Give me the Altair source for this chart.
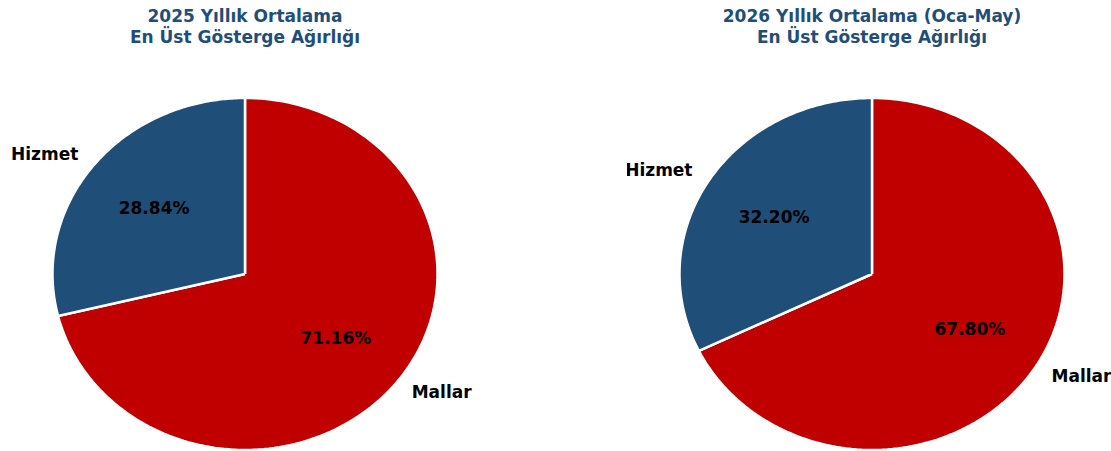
import altair as alt
import pandas as pd

categories = ["Mallar", "Hizmet"]
values_2025 = [71.16, 28.84]
values_2026 = [67.80, 32.20]
title_2025 = ["2025 Yıllık Ortalama", "En Üst Gösterge Ağırlığı"]
title_2026 = ["2026 Yıllık Ortalama (Oca-May)", "En Üst Gösterge Ağırlığı"]
colors = ["#c00000", "#1f4e79"]

RX, RY = 192.5, 176.0
TITLE_COLOR = "#1f4e79"
FONT = "DejaVu Sans"
FS = 17
Y0 = 56
H = 451 - Y0
CY = 273
N = 160


def panel(values, title, width, left_px, dx):
    df = pd.DataFrame({"category": categories, "value": values,
                       "idx": list(range(len(categories)))})
    xs = alt.Scale(domain=[-left_px / RX, (width - left_px) / RX], nice=False, zero=False)
    ys = alt.Scale(domain=[-(451 - CY) / RY, (CY - Y0) / RY], nice=False, zero=False)
    base = (
        alt.Chart(df)
        .transform_joinaggregate(total="sum(value)")
        .transform_window(cum="sum(value)", sort=[alt.SortField("idx")], frame=[None, 0])
        .transform_calculate(t0="2*PI*(datum.cum-datum.value)/datum.total",
                             t1="2*PI*datum.cum/datum.total")
    )
    wedges = (
        base.transform_calculate(i=f"sequence(-1, {N + 2})")
        .transform_flatten(["i"])
        .transform_calculate(a=f"datum.t0 + (datum.t1-datum.t0)*clamp(datum.i,0,{N})/{N}",
                             r=f"(datum.i < 0 || datum.i > {N}) ? 0 : 1")
        .transform_calculate(px="datum.r*sin(datum.a)", py="datum.r*cos(datum.a)")
        .mark_line(filled=True, stroke="white", strokeWidth=2.5, strokeJoin="round")
        .encode(
            x=alt.X("px:Q", scale=xs, axis=None),
            y=alt.Y("py:Q", scale=ys, axis=None),
            color=alt.Color("category:N", scale=alt.Scale(domain=categories, range=colors), legend=None),
            order=alt.Order("i:Q"),
        )
    )
    labeled = (
        base.transform_calculate(m="(datum.t0+datum.t1)/2")
        .transform_calculate(px="0.6*sin(datum.m)", py="0.6*cos(datum.m)",
                             lx="1.1*sin(datum.m)", ly="1.1*cos(datum.m)",
                             pct="format(datum.value, '.2f') + '%'")
    )
    pct = labeled.mark_text(font=FONT, fontWeight="bold", fontSize=FS, color="black",
                            baseline="middle", align="center").encode(
        x=alt.X("px:Q", scale=xs, axis=None), y=alt.Y("py:Q", scale=ys, axis=None), text="pct:N")
    out_l = labeled.transform_filter("datum.lx < 0").mark_text(
        font=FONT, fontWeight="bold", fontSize=FS, color="black", baseline="middle", align="right", clip=True
    ).encode(x=alt.X("lx:Q", scale=xs, axis=None), y=alt.Y("ly:Q", scale=ys, axis=None), text="category:N")
    out_r = labeled.transform_filter("datum.lx >= 0").mark_text(
        font=FONT, fontWeight="bold", fontSize=FS, color="black", baseline="middle", align="left", clip=True
    ).encode(x=alt.X("lx:Q", scale=xs, axis=None), y=alt.Y("ly:Q", scale=ys, axis=None), text="category:N")
    return alt.layer(wedges, pct, out_l, out_r).properties(
        width=width, height=H,
        title=alt.TitleParams(text=title, font=FONT, fontSize=FS, fontWeight="bold", color=TITLE_COLOR,
                              anchor="middle", frame="group", lineHeight=21, offset=10, dx=dx),
    )


left = panel(values_2025, title_2025, 490, 245, 0)
right = panel(values_2026, title_2026, 484, 245, 3)

chart = (
    alt.hconcat(left, right, spacing=137)
    .properties(padding={"left": 0, "top": 8, "right": 0, "bottom": 0})
    .configure_view(stroke=None)
)
chart.save("out.html", embed_options={"renderer": "svg", "actions": False})
